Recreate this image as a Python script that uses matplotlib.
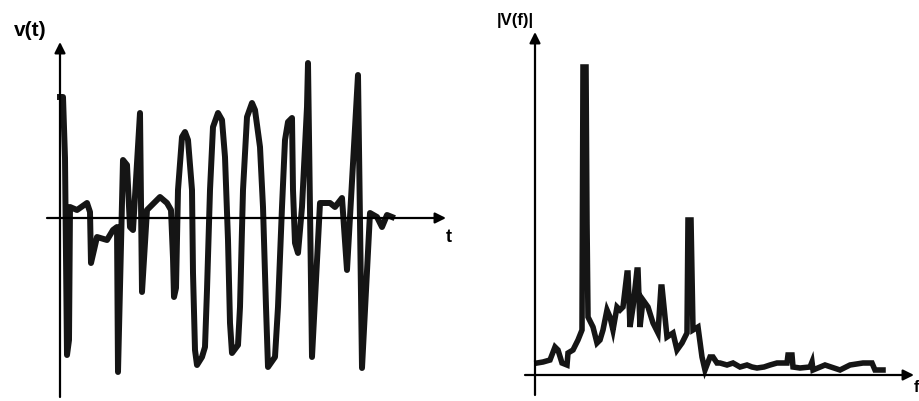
import numpy as np
import matplotlib
matplotlib.use('Agg')
import matplotlib.pyplot as plt

# time signal v(t), arbitrary units
t = [0, 3, 5, 7, 9, 10, 17, 27, 30, 31, 37, 47, 53, 57, 58, 63, 67, 70, 73, 80, 82, 87,
     100, 107, 111, 113, 114, 116, 118, 122, 125, 128, 132, 133, 135, 137, 142, 145, 147,
     150, 153, 158, 162, 165, 168, 170, 172, 178, 180, 183, 187, 192, 195, 200, 203, 206,
     208, 215, 218, 222, 225, 228, 232, 233, 235, 238, 242, 247, 248, 252, 260, 270, 275,
     282, 287, 298, 302, 310, 317, 322, 327, 332]
v = [121, 121, 60, -137, -122, 11, 8, 15, 6, -45, -19, -22, -12, -9, -154, 58, 53, -9,
     -12, 105, -74, 8, 21, 15, 8, -40, -79, -70, 28, 81, 86, 78, 28, -55, -132, -147,
     -139, -129, -72, 28, 91, 105, 98, 61, -22, -105, -135, -127, -89, 28, 101, 115, 108,
     71, 11, -89, -149, -139, -89, 11, 78, 96, 100, 28, -25, -35, 11, 111, 155, -139, 15,
     15, 11, 20, -52, 143, -150, 5, 1, -9, 3, 1]

# spectrum |V(f)|, arbitrary units
f = [2, 8, 15, 20, 23, 27, 32, 33, 38, 43, 47, 48, 51, 52, 53, 58, 62, 65, 68, 72, 75, 78,
     82, 85, 88, 92, 93, 95, 98, 102, 103, 105, 108, 113, 118, 123, 126, 127, 132, 138,
     142, 147, 152, 153, 156, 158, 163, 167, 170, 175, 178, 182, 185, 192, 198, 205, 212,
     217, 222, 229, 235, 242, 252, 253, 257, 258, 265, 275, 277, 278, 290, 305, 315, 328,
     337, 340, 348]
V = [12, 13, 15, 28, 25, 12, 10, 22, 25, 35, 45, 308, 308, 152, 58, 48, 32, 35, 45, 65,
     58, 45, 68, 65, 68, 102, 102, 48, 68, 105, 105, 48, 75, 68, 52, 42, 88, 88, 38, 42,
     25, 32, 42, 155, 155, 45, 48, 18, 5, 18, 18, 12, 12, 10, 12, 8, 10, 8, 7, 8, 10, 12,
     12, 20, 20, 8, 7, 8, 13, 5, 10, 5, 10, 12, 12, 5, 5]

plt.rcParams['font.family'] = ['Liberation Sans', 'DejaVu Sans']
fig = plt.figure(figsize=(9.19, 4.01), dpi=100)

arrow = dict(arrowstyle='-|>', lw=1.6, color='black', mutation_scale=16, shrinkA=0, shrinkB=0)

# left panel: v(t)
ax1 = fig.add_axes([40 / 919, 1 / 401, 420 / 919, 380 / 401])
ax1.set_xlim(-20, 400)
ax1.set_ylim(-182, 198)
ax1.axis('off')
ax1.plot(t, v, color='#151515', lw=4.3, solid_joinstyle='round')
ax1.annotate('', xy=(0, 176), xytext=(0, -179), arrowprops=arrow)
ax1.annotate('', xy=(386, 0), xytext=(-13, 0), arrowprops=arrow)
fig.text(14 / 919, 1 - 30 / 401, 'v(t)', fontsize=15, fontweight='bold', va='center')
fig.text(446 / 919, 1 - 237 / 401, 't', fontsize=13, fontweight='bold', va='center')

# right panel: |V(f)|
ax2 = fig.add_axes([500 / 919, 0, 419 / 919, 1])
ax2.set_xlim(-35, 384)
ax2.set_ylim(-26, 375)
ax2.axis('off')
ax2.plot(f, V, color='#151515', lw=4.0, solid_joinstyle='miter')
ax2.annotate('', xy=(0, 343), xytext=(0, -20), arrowprops=arrow)
ax2.annotate('', xy=(379, 0), xytext=(-10, 0), arrowprops=arrow)
fig.text(497 / 919, 1 - 20 / 401, '|V(f)|', fontsize=12, fontweight='bold', va='center')
fig.text(914 / 919, 1 - 388 / 401, 'f', fontsize=12, fontweight='bold', va='center')

plt.savefig('out.png', dpi=100)
